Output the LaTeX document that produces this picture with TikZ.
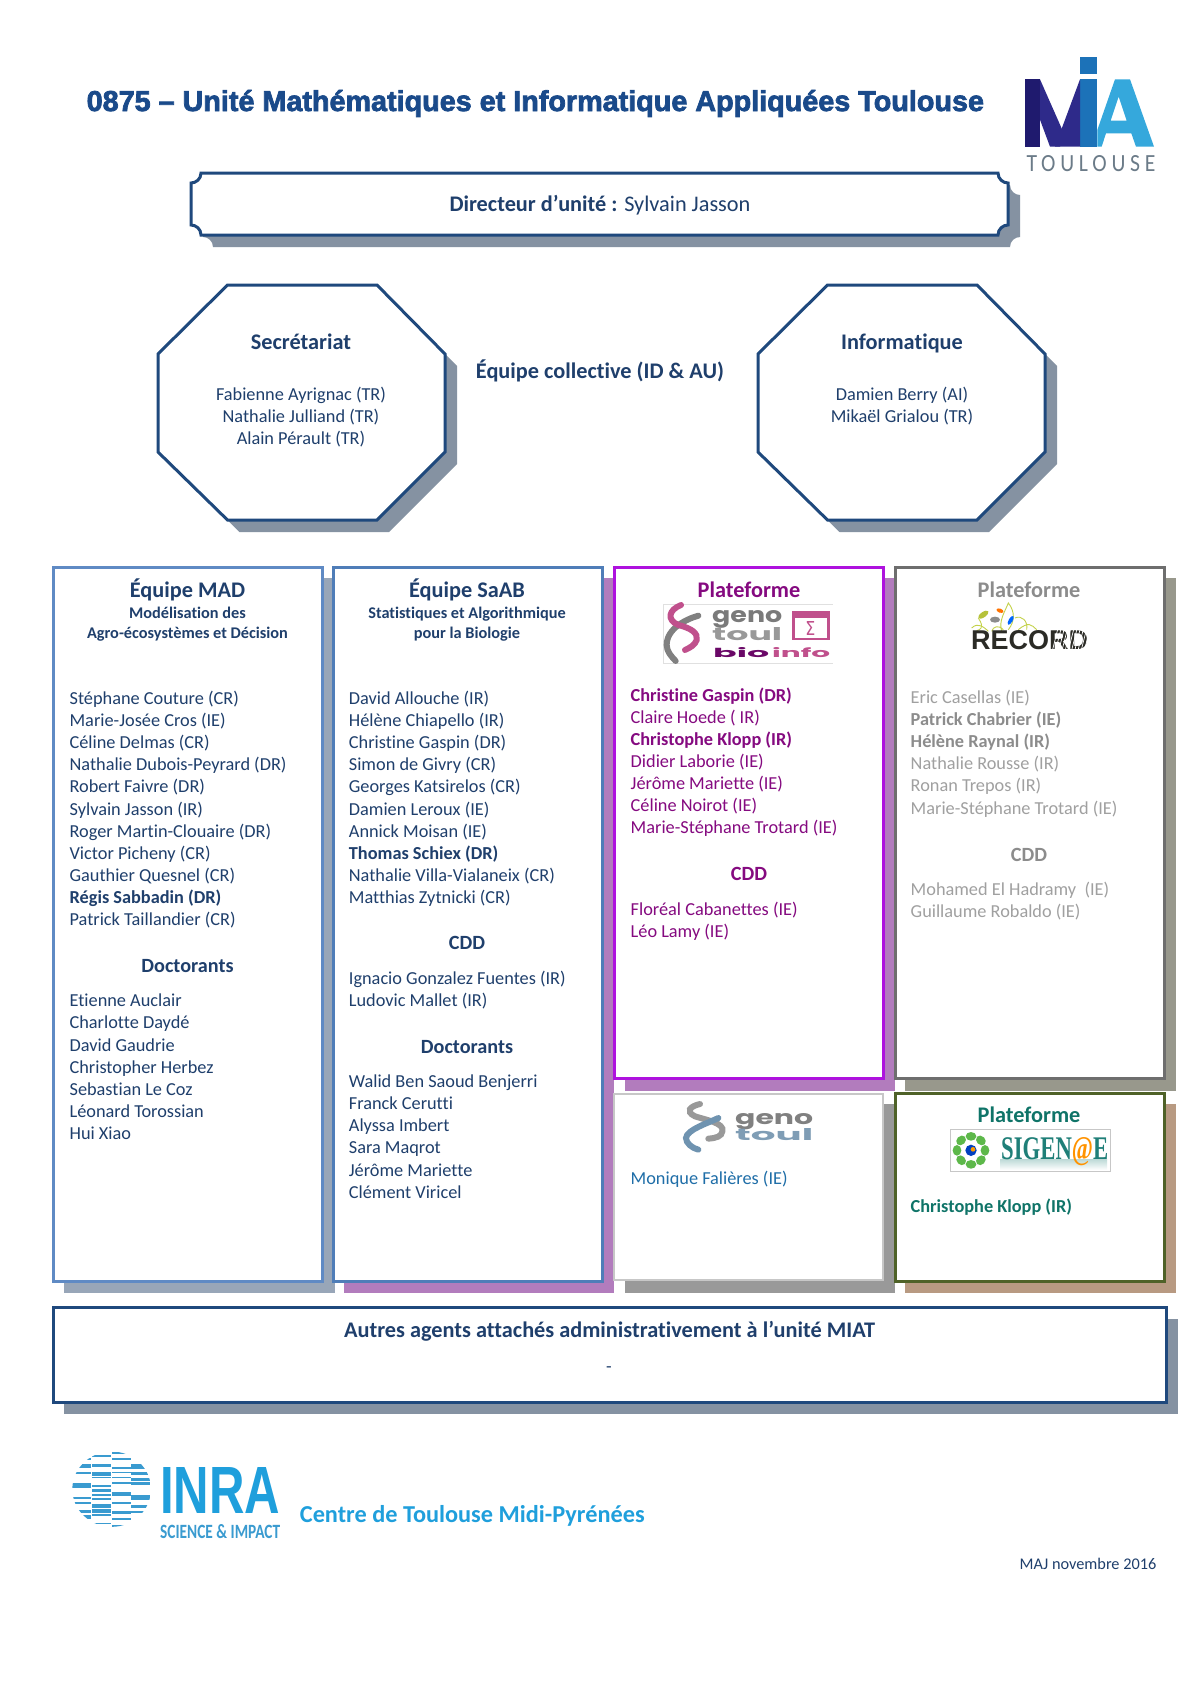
\documentclass[tikz,border=0pt]{standalone}
\usepackage{fontspec}
\setmainfont[Ligatures=NoCommon]{Carlito}
\newfontfamily\titlef[BoldFeatures={FakeBold=2.6}]{Liberation Sans}
\newfontfamily\logosans{Liberation Sans}
\newfontfamily\logoserif{Liberation Serif}
\newfontfamily\logopop{Poppins}
\newfontfamily\spaced[LetterSpace=22]{Carlito}
\newfontfamily\symb{DejaVu Sans}
\newcommand\fs[1]{\fontsize{#1}{#1}\selectfont}
\definecolor{navy}{HTML}{1F3F6C}
\definecolor{titleblue}{HTML}{1A4A8A}
\definecolor{framenavy}{HTML}{1F497D}
\definecolor{shnavy}{HTML}{8592A2}
\definecolor{madline}{HTML}{5F8AC4}
\definecolor{saabline}{HTML}{4F7DB8}
\definecolor{shmad}{HTML}{98A6B8}
\definecolor{shsaab}{HTML}{B27CBD}
\definecolor{purpline}{HTML}{AE12DE}
\definecolor{purptext}{HTML}{850A80}
\definecolor{grayline}{HTML}{6E6E6E}
\definecolor{shgray}{HTML}{98988C}
\definecolor{graytext}{HTML}{A0A0A0}
\definecolor{grayhead}{HTML}{8C8C8C}
\definecolor{shgeno}{HTML}{999999}
\definecolor{genotext}{HTML}{1F6EA8}
\definecolor{sigline}{HTML}{4F6228}
\definecolor{shsig}{HTML}{B89A82}
\definecolor{sigtext}{HTML}{0F7468}
\definecolor{inra}{HTML}{1F9FDC}
\definecolor{inrabar}{HTML}{3A9BD0}
\definecolor{pinkl}{HTML}{C0508C}
\definecolor{miadark}{HTML}{1F1A6E}
\definecolor{miaviolet}{HTML}{2E2A8A}
\definecolor{miablue}{HTML}{1C72B8}
\definecolor{mialight}{HTML}{35A8DC}
\definecolor{toulgray}{HTML}{6B7B88}
\definecolor{sigteal}{HTML}{1F7F78}
\definecolor{sigleaf}{HTML}{5DB84A}
\definecolor{recdark}{HTML}{2B2B26}
\definecolor{recgreen}{HTML}{C4D24A}
\definecolor{genoblue}{HTML}{7F9DB5}
\definecolor{genostrand}{HTML}{6F93B0}
\tikzset{
  person/.style={anchor=base west,inner sep=0pt,yshift=-6pt,font=\fs{18.3}},
  lineC/.style={anchor=base,inner sep=0pt,yshift=-6pt,font=\fs{18.3}},
  headC/.style={anchor=base,inner sep=0pt,yshift=-7pt,font=\fs{20.2}\bfseries},
  bigC/.style={anchor=base,inner sep=0pt,yshift=-7pt,font=\fs{22.3}\bfseries},
  subC/.style={anchor=base,inner sep=0pt,yshift=-5pt,font=\fs{16.3}\bfseries},
  logotext/.style={inner sep=0pt,anchor=base west},
  strand/.style={line width=6pt,line cap=round},
  panel/.style={fill=white,line width=3pt},
  framed/.style={fill=white,draw=framenavy,line width=3pt,line join=miter},
}
\newcommand\plist[5]{\foreach \i/\who in {#5}{\node[person,text=#4] (#1\i) at (#2,{#3+(\i-1)*22.15}) {\who};}}
\newcommand\clist[5]{\foreach \i/\who in {#5}{\node[lineC,text=#4] (#1\i) at (#2,{#3+(\i-1)*22.15}) {\who};}}
\newcommand\octagonpath{(69.5,0) -- (219,0) -- (287,69) -- (287,167) -- (219,235) -- (69.5,235) -- (0,167) -- (0,69) -- cycle}
\newcommand\plaquepath{(10,0) -- (807,0) .. controls (807,6) and (812,10) .. (817,10)
  -- (817,52) .. controls (812,52) and (807,56) .. (807,62)
  -- (10,62) .. controls (10,56) and (5,52) .. (0,52)
  -- (0,10) .. controls (5,10) and (10,6) .. (10,0) -- cycle}
\begin{document}
\begin{tikzpicture}[x=1pt,y=-1pt]
\useasboundingbox (0,0) rectangle (1200,1697);
\fill[white] (0,0) rectangle (1200,1697);
% title
\node[anchor=base west,inner sep=0pt,text=titleblue,font=\titlef\fs{28.75}\bfseries] (title) at (86.5,111) {0875 – Unité Mathématiques et Informatique Appliquées Toulouse};
% MIA logo (zoom units: 1 = 1/3 px)
\begin{scope}[shift={(1020,50)},x=0.3333pt,y=-0.3333pt]
\fill[miablue] (180,22) rectangle (230,72);
\fill[miablue] (180,88) rectangle (232,290);
\fill[mialight,even odd rule] (232,290) -- (232,240) -- (285,88) -- (330,88) -- (402,290) -- (348,290) -- (334,250) -- (258,250) -- (245,290) -- cycle (272,212) -- (320,212) -- (296,140) -- cycle;
\fill[miaviolet] (15,88) -- (60,88) -- (135,258) -- (120,290) -- (90,290) -- cycle;
\fill[miaviolet] (180,88) -- (180,290) -- (105,290) -- cycle;
\fill[miadark] (15,88) -- (60,88) -- (60,290) -- (15,290) -- cycle;
\end{scope}
\node[inner sep=0pt,text=toulgray] (toulouse) at (1091,164) {\resizebox{129pt}{16pt}{\spaced TOULOUSE}};
% director
\begin{scope}[shift={(203,185)}]\fill[shnavy] \plaquepath;\end{scope}
\begin{scope}[shift={(191,173)}]\draw[framed] \plaquepath;\end{scope}
\node[bigC,text=navy,font=\fs{22.3}] (dir) at (600,204.5) {{\bfseries Directeur d’unité :} Sylvain Jasson};
% octagons
\begin{scope}[shift={(170,297)}]\fill[shnavy] \octagonpath;\end{scope}
\begin{scope}[shift={(770,297)}]\fill[shnavy] \octagonpath;\end{scope}
\begin{scope}[shift={(158,285)}]\draw[framed] \octagonpath;\end{scope}
\begin{scope}[shift={(758,285)}]\draw[framed] \octagonpath;\end{scope}
\node[bigC,text=navy] (sec) at (301,342) {Secrétariat};
\clist{secn}{301}{394.6}{navy}{1/Fabienne Ayrignac (TR),2/Nathalie Julliand (TR),3/Alain Pérault (TR)}
\node[bigC,text=navy] (info) at (902,342) {Informatique};
\clist{infn}{902}{394.6}{navy}{1/Damien Berry (AI),2/Mikaël Grialou (TR)}
\node[bigC,text=navy] (coll) at (600,371) {Équipe collective (ID \& AU)};
% column shadows
\fill[shmad] (64,578) rectangle (335,1293);
\fill[shsaab] (343.5,578) rectangle (614,1293);
\fill[shsaab] (625,578) rectangle (895,1091);
\fill[shgray] (905,578) rectangle (1176,1091);
\fill[shgeno] (625,1104) rectangle (895,1293);
\fill[shsig] (905,1104) rectangle (1176,1293);
\fill[shnavy] (64,1319) rectangle (1178,1414);
% column frames
\draw[panel,draw=madline] (53,567) rectangle (322,1281);
\draw[panel,draw=saabline] (333,567) rectangle (602,1281);
\draw[panel,draw=purpline] (614,567) rectangle (883,1078);
\draw[panel,draw=grayline] (895,567) rectangle (1164,1078);
\draw[fill=white,draw=black!22,line width=1.2pt] (614,1094) rectangle (883,1280);
\draw[panel,draw=sigline] (895,1093) rectangle (1164,1281);
\draw[framed] (53,1307) rectangle (1166,1402);
% MAD
\node[bigC,text=navy] (mad) at (187.5,590) {Équipe MAD};
\node[subC,text=navy] (mads1) at (187.5,613) {Modélisation des};
\node[subC,text=navy] (mads2) at (187.5,633) {Agro-écosystèmes et Décision};
\plist{madn}{69.4}{698.3}{navy}{1/Stéphane Couture (CR),2/Marie-Josée Cros (IE),3/Céline Delmas (CR),4/Nathalie Dubois-Peyrard (DR),5/Robert Faivre (DR),6/Sylvain Jasson (IR),7/Roger Martin-Clouaire (DR),8/Victor Picheny (CR),9/Gauthier Quesnel (CR),10/{\bfseries Régis Sabbadin (DR)},11/Patrick Taillandier (CR)}
\node[headC,text=navy] (madd) at (187.5,965) {Doctorants};
\plist{maddn}{69.4}{1000.7}{navy}{1/Etienne Auclair,2/Charlotte Daydé,3/David Gaudrie,4/Christopher Herbez,5/Sebastian Le Coz,6/Léonard Torossian,7/Hui Xiao}
% SaAB
\node[bigC,text=navy] (saab) at (467,590) {Équipe SaAB};
\node[subC,text=navy] (saabs1) at (467,613) {Statistiques et Algorithmique};
\node[subC,text=navy] (saabs2) at (467,633) {pour la Biologie};
\plist{saabn}{348.7}{698.3}{navy}{1/David Allouche (IR),2/Hélène Chiapello (IR),3/Christine Gaspin (DR),4/Simon de Givry (CR),5/Georges Katsirelos (CR),6/Damien Leroux (IE),7/Annick Moisan (IE),8/{\bfseries Thomas Schiex (DR)},9/Nathalie Villa-Vialaneix (CR),10/Matthias Zytnicki (CR)}
\node[headC,text=navy] (saabc) at (467,942.7) {CDD};
\plist{saabcn}{348.7}{978.5}{navy}{1/Ignacio Gonzalez Fuentes (IR),2/Ludovic Mallet (IR)}
\node[headC,text=navy] (saabd) at (467,1046.7) {Doctorants};
\plist{saabdn}{348.7}{1081.5}{navy}{1/Walid Ben Saoud Benjerri,2/Franck Cerutti,3/Alyssa Imbert,4/Sara Maqrot,5/Jérôme Mariette,6/Clément Viricel}
% bioinfo
\node[bigC,text=purptext] (bio) at (749,590) {Plateforme};
\plist{bion}{630.5}{695}{purptext}{1/{\bfseries Christine Gaspin (DR)},2/Claire Hoede ( IR),3/{\bfseries Christophe Klopp (IR)},4/Didier Laborie (IE),5/Jérôme Mariette (IE),6/Céline Noirot (IE),7/Marie-Stéphane Trotard (IE)}
\node[headC,text=purptext] (bioc) at (749,873) {CDD};
\plist{biocn}{630.5}{909}{purptext}{1/Floréal Cabanettes (IE),2/Léo Lamy (IE)}
\begin{scope}[shift={(655,595)},x=0.3333pt,y=-0.3333pt]
\draw[black!12,line width=0.6pt] (24,28) -- (535,28) (24,28) -- (24,205) -- (535,205);
\draw[strand,color=black!50] (130,62) .. controls (95,72) and (35,100) .. (35,150) .. controls (35,170) and (50,185) .. (62,198);
\draw[strand,color=pinkl] (78,30) .. controls (40,45) and (35,75) .. (70,90) .. controls (110,100) and (130,115) .. (125,135) .. controls (120,150) and (105,158) .. (90,165);
\fill[pinkl] (412,48) rectangle (525,135);
\fill[white] (420,70) rectangle (517,128);
\node[inner sep=0pt,text=pinkl] (sigma) at (466,100) {\resizebox{10pt}{14pt}{\symb Σ}};
\end{scope}
\node[logotext,text=black!52] (geno1) at (712,622) {\resizebox{70pt}{12pt}{\logopop\bfseries geno}};
\node[logotext,text=black!40] (toul1) at (712,640) {\resizebox{70pt}{13pt}{\logopop\bfseries toul}};
\node[logotext,text=purptext!80!black] (bioinfo1) at (713,657) {\resizebox{56pt}{10pt}{\logopop\bfseries bio}};
\node[logotext,text=pinkl] (bioinfo2) at (772,657) {\resizebox{58pt}{10pt}{\logopop\bfseries info}};
% record
\node[bigC,text=grayhead] (rec) at (1029,590) {Plateforme};
\plist{recn}{910.5}{697.3}{graytext}{1/Eric Casellas (IE),2/{\bfseries\color{grayhead}Patrick Chabrier (IE)},3/{\bfseries\color{grayhead}Hélène Raynal (IR)},4/Nathalie Rousse (IR),5/Ronan Trepos (IR),6/Marie-Stéphane Trotard (IE)}
\node[headC,text=grayhead] (recc) at (1029,854) {CDD};
\plist{reccn}{910.5}{889}{graytext}{1/Mohamed El Hadramy~ (IE),2/Guillaume Robaldo (IE)}
\begin{scope}[shift={(965,598)},x=0.3333pt,y=-0.3333pt]
\draw[recgreen,line width=0.9pt] (20,90) .. controls (40,70) and (60,90) .. (70,100) (110,100) .. controls (100,70) and (120,40) .. (130,15) .. controls (150,40) and (150,70) .. (130,95) (160,95) .. controls (190,70) and (200,80) .. (215,95) (150,60) .. controls (170,50) and (190,70) .. (185,95) (80,100) .. controls (85,85) and (100,80) .. (115,95) (40,60) .. controls (60,90) and (45,95) .. (35,98);
\fill[recgreen!80!olive,rotate around={35:(55,50)}] (55,50) ellipse (18 and 8);
\fill[black!45] (90,65) ellipse (15 and 9);
\fill[orange!90!red,rotate around={-20:(105,38)}] (105,38) ellipse (11 and 6);
\fill[blue!60!cyan,rotate around={60:(137,67)}] (137,67) ellipse (15 and 6);
\end{scope}
\node[logotext,text=recdark] (record) at (971,649) {\resizebox{117pt}{19pt}{\logosans\bfseries RECORD}};
\foreach \k in {0,...,11}{\draw[white,line width=0.7pt] (1052+\k*3.2,652) -- (1058+\k*3.2,628);}
% geno toul
\begin{scope}[shift={(675,1098)},x=0.3333pt,y=-0.3333pt]
\draw[strand,color=black!40] (75,18) .. controls (45,25) and (30,40) .. (60,55) .. controls (90,65) and (150,75) .. (142,100) .. controls (140,115) and (125,120) .. (100,122);
\draw[strand,color=genostrand] (130,60) .. controls (100,75) and (35,95) .. (33,120) .. controls (33,135) and (50,150) .. (70,155);
\end{scope}
\node[logotext,text=black!50] (geno2) at (735,1124) {\resizebox{78pt}{11pt}{\logopop\bfseries geno}};
\node[logotext,text=genoblue] (toul2) at (735,1140) {\resizebox{78pt}{12pt}{\logopop\bfseries toul}};
\node[person,text=genotext] (fal) at (630.5,1178) {Monique Falières (IE)};
% sigenae
\node[bigC,text=sigtext] (sig) at (1029,1115) {Plateforme};
\draw[black!22,line width=0.8pt,fill=white] (950,1129) rectangle (1110,1171);
\fill[top color=sigteal!30,bottom color=white] (1000,1159) rectangle (1107,1170);
\begin{scope}[shift={(945,1122)},x=0.3333pt,y=-0.3333pt]
\foreach \a in {0,45,...,315}{\fill[sigleaf,rotate around={\a:(78,85)}] (78+42,85) ellipse (13 and 16);}
\fill[blue!50!teal] (78,85) circle (17);
\fill[orange!80!yellow] (84,82) circle (7);
\end{scope}
\node[logotext,text=sigteal] (sigen) at (1001,1159) {\resizebox{107pt}{22pt}{\logoserif\bfseries SIGEN{\color{orange!85!yellow}@}E}};
\node[person,text=sigtext,font=\fs{18.3}\bfseries] (klopp) at (910.5,1206) {Christophe Klopp (IR)};
% others
\node[bigC,text=navy] (autres) at (609.5,1330) {Autres agents attachés administrativement à l’unité MIAT};
\node[lineC,text=navy] (dash) at (609,1366) {-};
% INRA
\begin{scope}[shift={(65,1445)},x=0.3333pt,y=-0.3333pt]
\begin{scope}
\clip (140,132.5) ellipse (118 and 113);
\foreach \xa/\xb/\ya/\yb in {22/78/40/46,22/78/58/68,22/78/80/86,22/78/113/130,22/78/155/163,22/78/170/177,22/78/195/203,22/78/210/222,
 82/138/30/35,82/138/57/65,82/138/80/92,82/138/96/100,82/138/120/125,82/138/133/140,82/138/148/153,82/138/160/166,82/138/178/190,82/138/193/203,82/138/208/213,82/138/233/238,
 140/197/20/28,140/197/38/44,140/197/65/72,140/197/80/85,140/197/95/100,140/197/112/118,140/197/140/152,140/197/170/178,140/197/198/208,140/197/218/225,140/197/240/246,
 198/258/58/72,198/258/82/90,198/258/100/107,198/258/112/120,198/258/150/165,198/258/180/188,198/258/198/205}{
 \fill[inrabar] (\xa,\ya) rectangle (\xb,\yb);}
\end{scope}
\end{scope}
\node[logotext,text=inra] (inralogo) at (160,1513) {\resizebox{120pt}{46pt}{\logosans\bfseries INRA}};
\node[logotext,text=inrabar] (impact) at (160,1538) {\resizebox{120pt}{14pt}{\bfseries SCIENCE \& IMPACT}};
\node[anchor=base west,inner sep=0pt,text=inra,font=\fs{24.3}\bfseries] (centre) at (299.7,1522) {Centre de Toulouse Midi-Pyrénées};
\node[anchor=base east,inner sep=0pt,text=navy,font=\fs{16.3}] (maj) at (1156.5,1569) {MAJ novembre 2016};
\end{tikzpicture}
\end{document}
